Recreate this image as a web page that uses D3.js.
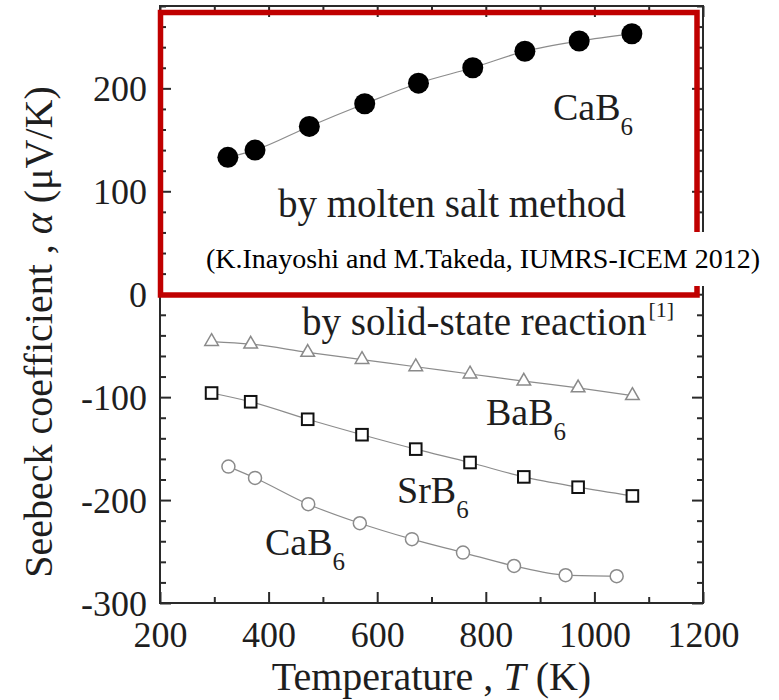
<!DOCTYPE html>
<html>
<head>
<meta charset="utf-8">
<script src="https://cdn.jsdelivr.net/npm/d3@7"></script>
<style>
  html, body { margin: 0; padding: 0; background: #fff; }
  svg { display: block; }
  text, tspan { font-family: "Liberation Serif", "DejaVu Serif", "Noto Serif", "Times New Roman", Times, serif !important; fill: #1e1e1e; }
</style>
</head>
<body>
<svg id="chart" width="779" height="700"></svg>
<script>
// Seebeck coefficient of hexaborides vs temperature

// CaB6 prepared by molten salt method (filled circles)
const moltenTemp = [325, 375, 475, 577, 676, 776, 872, 972, 1069];
const moltenCaB6 = [133, 140, 163, 185, 205, 220, 236, 246, 253];

// Samples prepared by solid-state reaction
const solidTemp = [295, 367, 472, 572, 671, 771, 870, 970, 1070];
const solidBaB6 = [-46, -48.5, -56.5, -63.5, -70.5, -77.5, -84.5, -91, -98.5];
const solidSrB6 = [-96, -104.5, -121.5, -136.5, -150.5, -163.5, -177.5, -187.5, -196];
const solidCaB6Temp = [326, 375, 473, 568, 664, 758, 852, 947, 1041];
const solidCaB6 = [-167.5, -178.5, -204, -222.5, -238, -251, -264, -273, -274];

// Axis ticks
const xMajorTicks = [200, 400, 600, 800, 1000, 1200];
const xMinorTicks = [300, 500, 700, 900, 1100];
const yMajorTicks = [-300, -200, -100, 0, 100, 200];
const yMinorTicks = d3.range(-280, 281, 20).filter(v => v % 100 !== 0);

const svg = d3.select("#chart");
const plotLeft = 160, plotRight = 703, plotTop = 6, plotBottom = 603;

const x = d3.scaleLinear().domain([200, 1200]).range([plotLeft, plotRight]);
const y = d3.scaleLinear().domain([-300, 280]).range([plotBottom, plotTop]);

const frameColor = "#2a2a2a";
const serif = '"Liberation Serif", "DejaVu Serif", "Noto Serif", "Times New Roman", Times, serif';
const plainNumber = d => String(d);
const g = svg.append("g");

// Axes with inward-pointing ticks on all four sides
function styleAxis(sel) {
  sel.attr("font-family", serif);
  sel.selectAll(".domain").remove();
  sel.selectAll(".tick line").attr("stroke", frameColor).attr("stroke-width", 2);
}
const axisBottom = g.append("g").attr("transform", `translate(0,${plotBottom})`)
  .call(d3.axisBottom(x).tickValues(xMajorTicks).tickSize(-11).tickPadding(24).tickFormat(plainNumber));
styleAxis(axisBottom);
axisBottom.selectAll("text").attr("font-size", 36).attr("fill", "#1e1e1e").attr("dy", "0.55em");
const axisBottomMinor = g.append("g").attr("transform", `translate(0,${plotBottom})`)
  .call(d3.axisBottom(x).tickValues(xMinorTicks).tickSize(-6).tickFormat(""));
styleAxis(axisBottomMinor);

const axisTop = g.append("g").attr("transform", `translate(0,${plotTop})`)
  .call(d3.axisTop(x).tickValues(xMajorTicks).tickSize(-11).tickFormat(""));
styleAxis(axisTop);
const axisTopMinor = g.append("g").attr("transform", `translate(0,${plotTop})`)
  .call(d3.axisTop(x).tickValues(xMinorTicks).tickSize(-6).tickFormat(""));
styleAxis(axisTopMinor);

const axisLeft = g.append("g").attr("transform", `translate(${plotLeft},0)`)
  .call(d3.axisLeft(y).tickValues(yMajorTicks).tickSize(-11).tickPadding(13).tickFormat(plainNumber));
styleAxis(axisLeft);
axisLeft.selectAll("text").attr("font-size", 36).attr("fill", "#1e1e1e").attr("dy", "0.34em");
const axisLeftMinor = g.append("g").attr("transform", `translate(${plotLeft},0)`)
  .call(d3.axisLeft(y).tickValues(yMinorTicks).tickSize(-6).tickFormat(""));
styleAxis(axisLeftMinor);

const axisRight = g.append("g").attr("transform", `translate(${plotRight},0)`)
  .call(d3.axisRight(y).tickValues(yMajorTicks).tickSize(-11).tickFormat(""));
styleAxis(axisRight);
const axisRightMinor = g.append("g").attr("transform", `translate(${plotRight},0)`)
  .call(d3.axisRight(y).tickValues(yMinorTicks).tickSize(-6).tickFormat(""));
styleAxis(axisRightMinor);

// Frame
g.append("rect").attr("x", plotLeft).attr("y", plotTop)
  .attr("width", plotRight - plotLeft).attr("height", plotBottom - plotTop)
  .attr("fill", "none").attr("stroke", frameColor).attr("stroke-width", 2);

// Connecting lines
const lineColor = "#8c8c8c";
function drawLine(xs, ys) {
  const pts = xs.map((t, i) => [x(t), y(ys[i])]);
  g.append("path").attr("d", d3.line().curve(d3.curveMonotoneX)(pts))
    .attr("fill", "none").attr("stroke", lineColor).attr("stroke-width", 1.2);
}
drawLine(moltenTemp, moltenCaB6);
drawLine(solidTemp, solidBaB6);
drawLine(solidTemp, solidSrB6);
drawLine(solidCaB6Temp, solidCaB6);

// Markers
g.append("g").selectAll("circle").data(moltenTemp).join("circle")
  .attr("cx", d => x(d)).attr("cy", (d, i) => y(moltenCaB6[i]))
  .attr("r", 10.5).attr("fill", "#000");

g.append("g").selectAll("path").data(solidTemp).join("path")
  .attr("transform", (d, i) => `translate(${x(d)},${y(solidBaB6[i])})`)
  .attr("d", d3.symbol(d3.symbolTriangle, 80))
  .attr("fill", "#fff").attr("stroke", "#8a8a8a").attr("stroke-width", 1.5);

g.append("g").selectAll("rect").data(solidTemp).join("rect")
  .attr("x", d => x(d) - 5.8).attr("y", (d, i) => y(solidSrB6[i]) - 5.8)
  .attr("width", 11.6).attr("height", 11.6)
  .attr("fill", "#fff").attr("stroke", "#111").attr("stroke-width", 2);

g.append("g").selectAll("circle").data(solidCaB6Temp).join("circle")
  .attr("cx", d => x(d)).attr("cy", (d, i) => y(solidCaB6[i]))
  .attr("r", 6.5).attr("fill", "#fff").attr("stroke", "#8a8a8a").attr("stroke-width", 1.5);

// Compound labels with subscripts
function formula(px, py, base, sub) {
  const t = g.append("text").attr("x", px).attr("y", py).attr("font-size", 38);
  t.append("tspan").text(base);
  t.append("tspan").attr("font-size", 25).attr("dy", 15).text(sub);
}
formula(553, 120, "CaB", "6");
formula(486, 425, "BaB", "6");
formula(397, 503, "SrB", "6");
formula(265, 555, "CaB", "6");

g.append("text").attr("x", 278).attr("y", 217).attr("font-size", 39)
  .text("by molten salt method");

const solidLabel = g.append("text").attr("x", 302).attr("y", 335).attr("font-size", 39);
solidLabel.append("tspan").text("by solid-state reaction");
solidLabel.append("tspan").attr("font-size", 22).attr("dy", -18).attr("dx", 2).text("[1]");

// Highlight box around the molten-salt data
g.append("rect").attr("x", 160.5).attr("y", 12.5)
  .attr("width", 697 - 160.5).attr("height", 295 - 12.5)
  .attr("fill", "none").attr("stroke", "#c00000").attr("stroke-width", 5.5);

// Citation on a white band
g.append("rect").attr("x", 198).attr("y", 232).attr("width", 570).attr("height", 54)
  .attr("fill", "#fff");
g.append("text").attr("x", 206).attr("y", 268).attr("font-size", 28).style("fill", "#000")
  .text("(K.Inayoshi and M.Takeda, IUMRS-ICEM 2012)");

// Axis titles
const xTitle = svg.append("text").attr("x", (plotLeft + plotRight) / 2).attr("y", 690)
  .attr("text-anchor", "middle").attr("font-size", 40);
xTitle.append("tspan").text("Temperature , ");
xTitle.append("tspan").attr("font-style", "italic").text("T");
xTitle.append("tspan").text(" (K)");

const yTitle = svg.append("text")
  .attr("transform", `translate(52,332) rotate(-90)`)
  .attr("text-anchor", "middle").attr("font-size", 40);
yTitle.append("tspan").text("Seebeck coefficient , ");
yTitle.append("tspan").attr("font-style", "italic").text("α");
yTitle.append("tspan").text(" (μV/K)");
</script>
</body>
</html>
